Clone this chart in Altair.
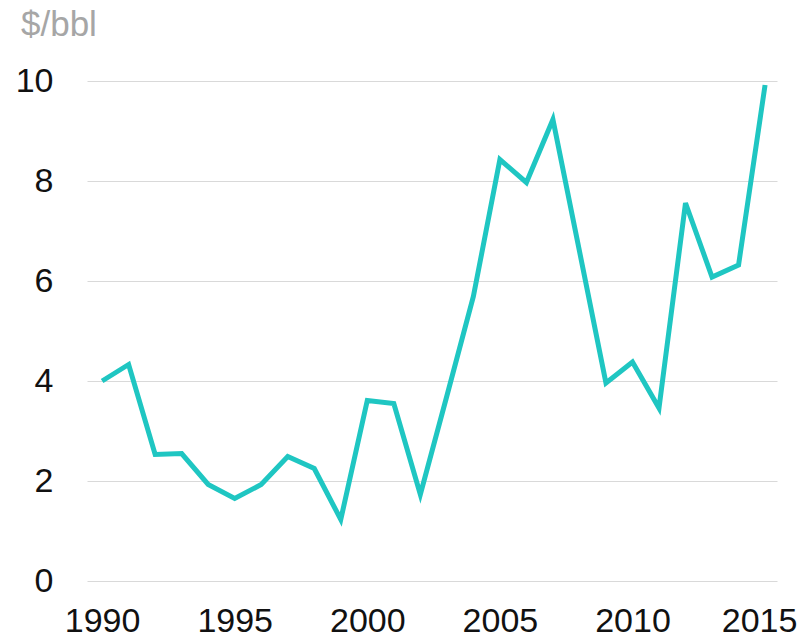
import altair as alt
import pandas as pd

years = list(range(1990, 2016))
values = [4.0, 4.33, 2.53, 2.55, 1.93, 1.65, 1.93, 2.49, 2.25, 1.23,
          3.61, 3.55, 1.73, 3.7, 5.69, 8.43, 7.97, 9.23, 6.6, 3.96,
          4.38, 3.46, 7.56, 6.08, 6.32, 9.92]
x_ticks = [1990, 1995, 2000, 2005, 2010, 2015]
y_ticks = [0, 2, 4, 6, 8, 10]

df = pd.DataFrame({"year": years, "value": values})

chart = alt.Chart(df).mark_line(
    color="#1FC6C2", strokeWidth=5, strokeJoin="miter", strokeCap="butt"
).encode(
    x=alt.X("year:Q",
            scale=alt.Scale(domain=[1989.43, 2015.45], nice=False, zero=False),
            axis=alt.Axis(values=x_ticks, format="d", grid=False, domain=False,
                          ticks=False, labelPadding=23, labelFontSize=34,
                          labelFont="Liberation Sans", labelColor="#111111",
                          labelOffset={"condition": {"test": "datum.value == 2015", "value": -6},
                                       "value": 0},
                          title=None, labelFlush=False, labelOverlap=False)),
    y=alt.Y("value:Q",
            scale=alt.Scale(domain=[0, 10], nice=False),
            axis=alt.Axis(values=y_ticks, grid=True, gridColor="#D9D9D9",
                          gridWidth=1.2, domain=False, ticks=False,
                          labelPadding=34, labelFontSize=34,
                          labelFont="Liberation Sans", labelColor="#111111",
                          title=None)),
).properties(
    width=690,
    height=500,
    title=alt.TitleParams("$/bbl", anchor="start", frame="group", dx=-66,
                          offset=21, fontSize=35, font="Liberation Sans",
                          fontWeight="normal", color="#A6A6A6"),
    autosize=alt.AutoSizeParams(type="none"),
    padding={"left": 79, "top": 73, "right": 21, "bottom": 55},
).configure(background="white", view={"stroke": "transparent", "strokeWidth": 0})

chart.save("out.html", embed_options={"renderer": "svg", "actions": False})
